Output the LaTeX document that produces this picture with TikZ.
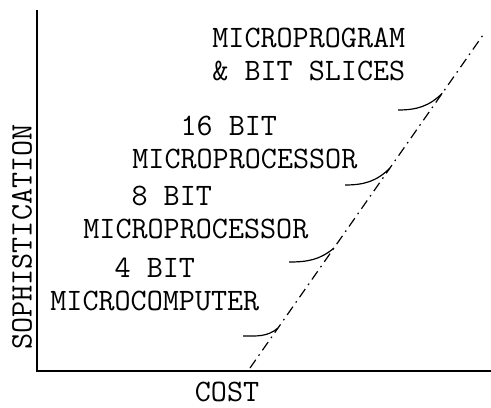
\documentclass[tikz,border=0pt]{standalone}
\usepackage{fontspec}
\usetikzlibrary{positioning, calc}

\begin{document}
\begin{tikzpicture}[
x=0.5pt, y=-0.5pt,
lbl/.style={anchor=north west, align=left, inner sep=0pt, font=\ttfamily\fontsize{15.6}{16.5}\selectfont},
axlbl/.style={inner sep=0pt, font=\ttfamily\fontsize{15.6}{16.5}\selectfont},
axis/.style={line width=1pt},
trend/.style={line width=0.6pt, dash pattern=on 5pt off 2.5pt on 0.8pt off 2.5pt},
hook/.style={line width=0.6pt}
]
\useasboundingbox (0,0) rectangle (491,407);

% Achsen
\coordinate (origin) at (37,371);
\coordinate (ytop) at (37,10);
\coordinate (xend) at (491,371);
\draw[axis] (ytop) -- (origin) -- (xend);

\node[axlbl, rotate=90] (soph) at (22,237) {SOPHISTICATION};
\node[axlbl] (cost) at (227,392) {COST};

% Kurve
\coordinate (lo) at (250,368);
\coordinate (hi) at (483,35);
\draw[trend] (lo) -- (hi);

% Beschriftungen
\node[lbl] (prog) at (212,28) {MICROPROGRAM\\\& BIT SLICES};
\node[lbl] (sixteen) at (132,116) {\phantom{MIC}16 BIT\\MICROPROCESSOR};
\node[lbl] (eight) at (83,186) {\phantom{MIC}8 BIT\\MICROPROCESSOR};
\node[lbl] (four) at (50,258) {\phantom{MICR}4 BIT\\MICROCOMPUTER};

% Haken
\coordinate (m1) at ($(lo)!0.12!(hi)$);
\coordinate (m2) at ($(lo)!0.36!(hi)$);
\coordinate (m3) at ($(lo)!0.60!(hi)$);
\coordinate (m4) at ($(lo)!0.825!(hi)$);

\coordinate (h1) at (243,336);
\coordinate (h2) at (289,262);
\coordinate (h3) at (345,185);
\coordinate (h4) at (398,110);

\draw[hook] (h1) to[out=0, in=220] (m1);
\draw[hook] (h2) to[out=0, in=220] (m2);
\draw[hook] (h3) to[out=0, in=225] (m3);
\draw[hook] (h4) to[out=0, in=225] (m4);

\end{tikzpicture}
\end{document}
